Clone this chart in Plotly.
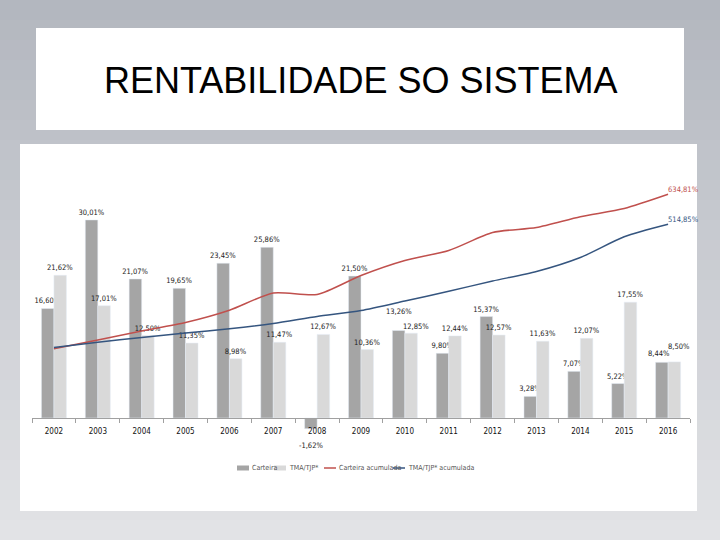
import plotly.graph_objects as go

years = ["2002", "2003", "2004", "2005", "2006", "2007", "2008", "2009",
         "2010", "2011", "2012", "2013", "2014", "2015", "2016"]
carteira = [16.60, 30.01, 21.07, 19.65, 23.45, 25.86, -1.62, 21.50,
            13.26, 9.80, 15.37, 3.28, 7.07, 5.22, 8.44]
tma = [21.62, 17.01, 12.50, 11.35, 8.98, 11.47, 12.67, 10.36,
       12.85, 12.44, 12.57, 11.63, 12.07, 17.55, 8.50]
carteira_acum = [17, 52, 88, 122, 171, 240, 234, 310, 370, 410, 482, 502, 545, 578, 634.81]
tma_acum = [21.62, 43, 62, 80, 97, 118, 146, 170, 208, 247, 288, 326, 382, 465, 514.85]
series_names = ["Carteira", "TMA/TJP*", "Carteira acumulada", "TMA/TJP* acumulada"]
series_colors = ["#a5a5a5", "#d9d9d9", "#c0504d", "#35557f"]

W, H = 720, 540
NARROW = "Liberation Sans Narrow, DejaVu Sans Condensed, Arial Narrow, sans-serif"
LBL = 7.5

# labels placed by hand in the original (series index, category index) -> (dx, dy) pixels
# dx relative to the bar centre, dy = gap between bar end and text bottom
label_moves = {
    (0, 6): (0, -27),   # negative value, below the axis labels
    (0, 8): (0, 12),
    (1, 8): (5, 0),
    (1, 14): (5, 9),
    (0, 14): (-3, 2),
}


def pct(v):
    return f"{v:.2f}%".replace(".", ",")


fig = go.Figure()
annotations = []

for s, (vals, off) in enumerate([(carteira, -6), (tma, 6)]):
    texts = []
    for i, v in enumerate(vals):
        if (s, i) in label_moves:
            texts.append("")
            dx, dy = label_moves[(s, i)]
            if v < 0:
                annotations.append(dict(x=i, y=0, xref="x", yref="y", text=pct(v),
                                        showarrow=False, xshift=off + dx, yshift=dy,
                                        font=dict(size=LBL, color="#222222", family=NARROW)))
            else:
                annotations.append(dict(x=i, y=v, xref="x", yref="y", text=pct(v),
                                        showarrow=False, xshift=off + dx, yshift=dy,
                                        yanchor="bottom",
                                        font=dict(size=LBL, color="#222222", family=NARROW)))
        else:
            texts.append(pct(v))
    fig.add_trace(go.Bar(
        x=years, y=vals, name=series_names[s], marker_color=series_colors[s],
        text=texts, textposition="outside", constraintext="none", cliponaxis=False,
        textfont=dict(size=LBL, color="#222222", family=NARROW),
    ))

for s, vals in [(2, carteira_acum), (3, tma_acum)]:
    fig.add_trace(go.Scatter(
        x=years, y=vals, name=series_names[s], yaxis="y2",
        mode="lines+text",
        line=dict(color=series_colors[s], width=1.5, shape="spline", smoothing=0.7),
        text=[""] * (len(years) - 1) + [pct(vals[-1])],
        textposition="top right", cliponaxis=False,
        textfont=dict(size=LBL, color=series_colors[s], family=NARROW),
    ))

# title text
annotations.append(dict(x=0.5, y=1 - 80 / H, xref="paper", yref="paper",
                        xanchor="center", yanchor="middle",
                        text="RENTABILIDADE SO SISTEMA", showarrow=False,
                        font=dict(size=36, color="#000000",
                                  family="Liberation Sans, Arial, sans-serif")))

shapes = []
# background gradient
n = 27
c0 = (0xb3, 0xb7, 0xbf)
c1 = (0xe2, 0xe3, 0xe6)
for i in range(n):
    t = i / (n - 1)
    col = "rgb(%d,%d,%d)" % tuple(round(a + (b - a) * t) for a, b in zip(c0, c1))
    shapes.append(dict(type="rect", xref="paper", yref="paper", layer="below",
                       x0=0, x1=1, y0=1 - (i + 1) / n, y1=1 - i / n,
                       fillcolor=col, line=dict(width=0)))
# title box
shapes.append(dict(type="rect", xref="paper", yref="paper", layer="below",
                   x0=36 / W, x1=684 / W, y0=1 - 130 / H, y1=1 - 28 / H,
                   fillcolor="white", line=dict(width=0)))
# chart box
shapes.append(dict(type="rect", xref="paper", yref="paper", layer="below",
                   x0=20 / W, x1=697 / W, y0=1 - 511 / H, y1=1 - 144 / H,
                   fillcolor="white", line=dict(width=0)))

# custom compact legend
leg_y = 468
leg_items = [(237, "bar"), (274, "bar"), (324, "line"), (393, "line")]
for (x0, kind), name, col in zip(leg_items, series_names, series_colors):
    if kind == "bar":
        shapes.append(dict(type="rect", xref="paper", yref="paper",
                           x0=x0 / W, x1=(x0 + 12) / W,
                           y0=1 - (leg_y + 2.5) / H, y1=1 - (leg_y - 2.5) / H,
                           fillcolor=col, line=dict(width=0)))
    else:
        shapes.append(dict(type="line", xref="paper", yref="paper",
                           x0=x0 / W, x1=(x0 + 12) / W,
                           y0=1 - leg_y / H, y1=1 - leg_y / H,
                           line=dict(color=col, width=1.5)))
    annotations.append(dict(x=(x0 + 13) / W, y=1 - leg_y / H, xref="paper", yref="paper",
                            xanchor="left", yanchor="middle", text=name, showarrow=False,
                            font=dict(size=7, color="#555555", family=NARROW)))

top_px, base_px, bot_px = 170, 418, 440
fig.update_layout(
    width=W, height=H,
    margin=dict(l=0, r=0, t=0, b=0),
    paper_bgcolor="#c8cacf",
    plot_bgcolor="rgba(0,0,0,0)",
    barmode="group", bargap=0.43, bargroupgap=0,
    shapes=shapes, annotations=annotations,
    showlegend=False,
    xaxis=dict(domain=[32 / W, 690 / W], type="category",
               range=[-0.5, len(years) - 0.5],
               anchor="free", position=1 - base_px / H,
               showline=True, linecolor="#a0a0a0", linewidth=1,
               ticks="outside", tickson="boundaries", ticklen=4, tickcolor="#a0a0a0",
               tickfont=dict(size=8, color="#111111", family=NARROW),
               tickangle=0, ticklabelstandoff=5,
               showgrid=False, zeroline=False),
    yaxis=dict(domain=[1 - bot_px / H, 1 - top_px / H],
               range=[(base_px - bot_px) / 6.6, (base_px - top_px) / 6.6],
               visible=False, showgrid=False, zeroline=False),
    yaxis2=dict(overlaying="y", side="right",
                range=[(353 - bot_px) / 0.25, (353 - top_px) / 0.25],
                visible=False, showgrid=False, zeroline=False),
)

fig.write_html("out.html", config={"displayModeBar": False},
               post_script="document.body.style.margin='0';")
